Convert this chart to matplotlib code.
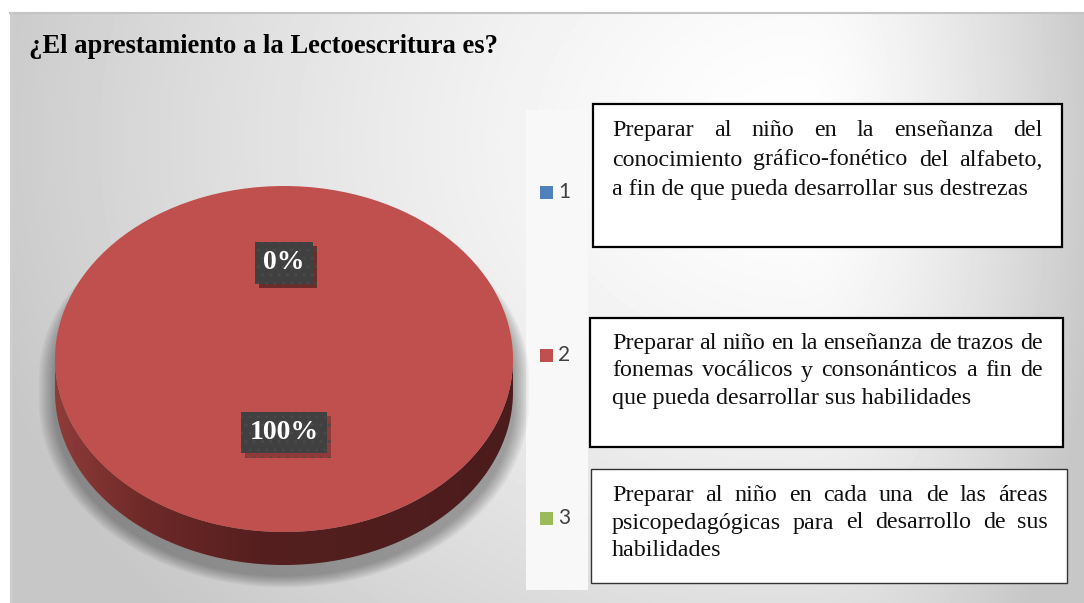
import matplotlib.pyplot as plt
import numpy as np
import matplotlib.patheffects as pe
from matplotlib.patches import Rectangle, Polygon
from matplotlib.colors import LinearSegmentedColormap

W, H = 1084, 603

title = '¿El aprestamiento a la Lectoescritura es?'
categories = ['1', '2', '3']
values = [0, 100, 0]
colors = ['#4f81bd', '#c0504d', '#9bbb59']

# answer options, split the way they are in the picture
box_lines = [
    ['Preparar al niño en la enseñanza del',
     'conocimiento gráfico-fonético del alfabeto,',
     'a fin de que pueda desarrollar sus destrezas'],
    ['Preparar al niño en la enseñanza de trazos de',
     'fonemas vocálicos y consonánticos a fin de',
     'que pueda desarrollar sus habilidades'],
    ['Preparar al niño en cada una de las áreas',
     'psicopedagógicas para el desarrollo de sus',
     'habilidades'],
]

fig = plt.figure(figsize=(W / 100, H / 100), dpi=100)
fig.patch.set_facecolor('white')

# chart area background (grey radial gradient)
bg = fig.add_axes([0, 0, 1, 1], zorder=0)
yy, xx = np.mgrid[12:H, 10:W].astype(float)
rx = np.where(xx > 800, 300.0, 850.0)
d = np.sqrt(((xx - 800) / rx) ** 2 + ((yy - 140) / 700) ** 2)
shade = 1 - 0.22 * np.clip(d, 0, 1) ** 1.4
bg.imshow(shade, cmap='gray', vmin=0, vmax=1, extent=(10, W, H, 12),
          aspect='auto', interpolation='bilinear')
bg.plot([10, W], [12.5, 12.5], color='#c4c4c4', lw=1.5)
bg.plot([10.5, 10.5], [12, H], color='#d0d0d0', lw=1)
bg.add_patch(Rectangle((526, 110), 62, 480, facecolor='#f8f8f8', edgecolor='none'))
bg.set_xlim(0, W)
bg.set_ylim(H, 0)
bg.axis('off')

# pie (top face ellipse centre / radii in pixels, side thickness)
cx, cy, prx, pry, thick = 284, 359, 229, 173, 33
ax = fig.add_axes([20 / W, (H - 600) / H, 520 / W, 440 / H], zorder=1)
ts = thick / pry

lower = np.linspace(np.pi, 2 * np.pi, 150)
upper = np.linspace(0, np.pi, 150)

# soft shadow, mostly left / below the pie
for k in range(10):
    s = 1.0 + 0.07 * (10 - k) / 10
    sil = np.r_[np.c_[s * np.cos(upper), np.sin(upper) - 0.1],
                np.c_[s * np.cos(lower), s * np.sin(lower) - ts - 0.06]]
    ax.add_patch(Polygon(sil, closed=True, facecolor='black', edgecolor='none',
                         alpha=0.035, zorder=1))

# side wall with a horizontal gradient
side_cmap = LinearSegmentedColormap.from_list(
    'side', [(0, '#8e3c3a'), (0.2, '#6d2927'), (0.45, '#551f1f'), (1, '#4b1c1c')])
grad = np.linspace(0, 1, 256)[None, :]
im = ax.imshow(grad, cmap=side_cmap, extent=(-1, 1, -1 - ts, 0.05),
               aspect='auto', zorder=2)
side = np.r_[np.c_[np.cos(lower), np.sin(lower) - ts],
             np.c_[np.cos(lower[::-1]), np.sin(lower[::-1])]]
clip = Polygon(side, closed=True, facecolor='none', edgecolor='none')
ax.add_patch(clip)
im.set_clip_path(clip)

wedges, texts, autotexts = ax.pie(
    values, colors=colors, startangle=90, counterclock=False,
    autopct=lambda p: f'{p:.0f}%', pctdistance=0.49,
    wedgeprops=dict(linewidth=0))
for w in wedges:
    w.set_zorder(3)

for t in autotexts:
    x, y = t.get_position()
    t.set_position((x, y + 0.065))
    t.set_color('white')
    t.set_fontsize(20)
    t.set_fontweight('bold')
    t.set_family('Liberation Serif')
    t.set_zorder(6)
    t.set_bbox(dict(boxstyle='square,pad=0.3', facecolor='#404040',
                    edgecolor='#494949', linewidth=0, hatch='..'))
    t.get_bbox_patch().set_path_effects(
        [pe.SimplePatchShadow(offset=(3, -3), shadow_rgbFace='black', alpha=0.25),
         pe.Normal()])

ax.set_aspect('auto')
ax.set_xlim((20 - cx) / prx, (540 - cx) / prx)
ax.set_ylim(-(600 - cy) / pry, (cy - 160) / pry)
ax.axis('off')

# overlay in pixel coordinates for title, legend and text boxes
ov = fig.add_axes([0, 0, 1, 1], zorder=2)
ov.set_xlim(0, W)
ov.set_ylim(H, 0)
ov.axis('off')

ov.text(29, 53, title, fontsize=19.2, fontweight='bold', family='Liberation Serif',
        color='black', va='baseline')

for i, (cat, col) in enumerate(zip(categories, colors)):
    ly = 192 + i * 163
    ov.add_patch(Rectangle((540, ly - 6.5), 13, 13, facecolor=col, edgecolor='none'))
    ov.text(558, ly, cat, fontsize=15, family='Lato', color='#404040', va='center')

boxes = [(593, 104, 1062, 247, 'black', 1.6),
         (590, 318, 1063, 447, 'black', 1.6),
         (591, 469, 1067, 583, '#333333', 1.0)]
text_pos = [(612, 1043, 136), (612, 1043, 349), (612, 1048, 501)]
steps = [29.5, 27.5, 27.5]

renderer = fig.canvas.get_renderer()
fs = 17.3
for (x0, y0, x1, y1, ec, lw), (left, right, base), step, lines in zip(
        boxes, text_pos, steps, box_lines):
    ov.add_patch(Rectangle((x0, y0), x1 - x0, y1 - y0, facecolor='white',
                           edgecolor=ec, linewidth=lw))
    for k, line in enumerate(lines):
        y = base + k * step
        if k == len(lines) - 1:
            ov.text(left, y, line, fontsize=fs, family='Liberation Serif',
                    color='#111111', va='baseline')
            continue
        words = line.split()
        objs = [ov.text(0, y, w, fontsize=fs, family='Liberation Serif',
                        color='#111111', va='baseline') for w in words]
        widths = [o.get_window_extent(renderer).width for o in objs]
        gap = (right - left - sum(widths)) / (len(words) - 1)
        x = left
        for o, wd in zip(objs, widths):
            o.set_x(x)
            x += wd + gap

plt.savefig('out.png', dpi=100)
